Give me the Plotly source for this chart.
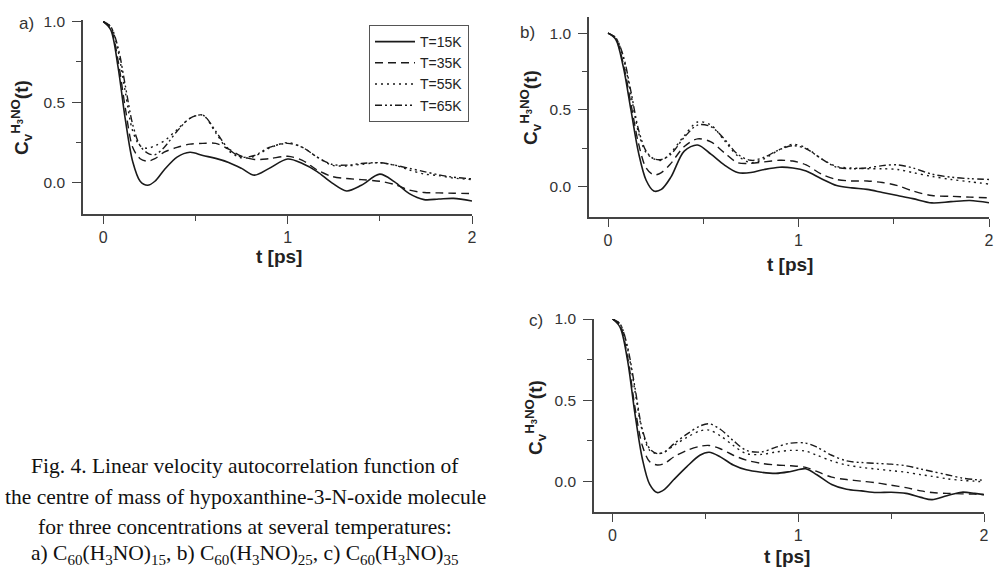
import plotly.graph_objects as go

# ---------------- data ----------------
temps = ["T=15K", "T=35K", "T=55K", "T=65K"]

t_a = [0, 0.04, 0.08, 0.12, 0.16, 0.20, 0.24, 0.28, 0.33, 0.40, 0.47, 0.54, 0.61, 0.68, 0.75,
       0.82, 0.90, 1.00, 1.08, 1.16, 1.24, 1.32, 1.40, 1.50, 1.58, 1.66, 1.74, 1.82, 1.90, 2.00]
a_15 = [1.0, 0.95, 0.72, 0.39, 0.13, 0.01, -0.015, 0.01, 0.08, 0.16, 0.19, 0.17, 0.152, 0.127, 0.09,
        0.048, 0.09, 0.148, 0.12, 0.07, 0.0, -0.05, -0.015, 0.054, 0.006, -0.067, -0.104, -0.10, -0.096, -0.112]
a_35 = [1.0, 0.96, 0.76, 0.46, 0.22, 0.15, 0.135, 0.15, 0.19, 0.22, 0.24, 0.245, 0.245, 0.21, 0.165,
        0.145, 0.15, 0.165, 0.14, 0.08, 0.04, 0.027, 0.02, 0.01, -0.01, -0.045, -0.06, -0.062, -0.064, -0.066]
a_55 = [1.0, 0.97, 0.82, 0.56, 0.32, 0.23, 0.215, 0.23, 0.26, 0.33, 0.40, 0.42, 0.31, 0.20, 0.155,
        0.165, 0.215, 0.25, 0.22, 0.16, 0.11, 0.105, 0.115, 0.125, 0.11, 0.08, 0.055, 0.045, 0.03, 0.02]
a_65 = [1.0, 0.97, 0.84, 0.60, 0.36, 0.23, 0.185, 0.175, 0.22, 0.32, 0.40, 0.42, 0.32, 0.21, 0.16,
        0.17, 0.22, 0.245, 0.22, 0.16, 0.115, 0.11, 0.12, 0.125, 0.11, 0.09, 0.07, 0.05, 0.035, 0.025]

t_b = [0, 0.04, 0.08, 0.12, 0.16, 0.20, 0.24, 0.28, 0.33, 0.40, 0.47, 0.54, 0.61, 0.68, 0.75,
       0.82, 0.90, 0.97, 1.04, 1.12, 1.20, 1.28, 1.36, 1.44, 1.52, 1.60, 1.70, 1.80, 1.90, 2.00]
b_15 = [1.0, 0.96, 0.78, 0.50, 0.22, 0.04, -0.03, -0.02, 0.06, 0.23, 0.27, 0.21, 0.14, 0.09, 0.09,
        0.11, 0.125, 0.12, 0.10, 0.05, 0.005, -0.01, -0.02, -0.04, -0.06, -0.08, -0.108, -0.10, -0.092, -0.107]
b_35 = [1.0, 0.965, 0.80, 0.54, 0.28, 0.12, 0.075, 0.09, 0.15, 0.26, 0.31, 0.29, 0.22, 0.155, 0.15,
        0.16, 0.17, 0.165, 0.14, 0.08, 0.045, 0.035, 0.035, 0.025, 0.005, -0.03, -0.06, -0.065, -0.07, -0.075]
b_55 = [1.0, 0.97, 0.84, 0.60, 0.35, 0.22, 0.18, 0.17, 0.22, 0.33, 0.42, 0.40, 0.30, 0.20, 0.155,
        0.18, 0.24, 0.275, 0.25, 0.18, 0.13, 0.12, 0.115, 0.115, 0.11, 0.09, 0.065, 0.045, 0.03, 0.015]
b_65 = [1.0, 0.97, 0.85, 0.62, 0.37, 0.23, 0.18, 0.175, 0.21, 0.32, 0.40, 0.39, 0.31, 0.21, 0.17,
        0.19, 0.24, 0.265, 0.245, 0.18, 0.125, 0.115, 0.12, 0.135, 0.14, 0.12, 0.08, 0.06, 0.05, 0.045]

t_c = [0, 0.04, 0.08, 0.12, 0.16, 0.20, 0.24, 0.28, 0.33, 0.40, 0.47, 0.52, 0.58, 0.65, 0.72, 0.80,
       0.88, 0.96, 1.04, 1.10, 1.18, 1.26, 1.34, 1.42, 1.50, 1.58, 1.66, 1.72, 1.80, 1.88, 1.95, 2.00]
c_15 = [1.0, 0.95, 0.75, 0.42, 0.14, -0.02, -0.07, -0.05, 0.01, 0.09, 0.16, 0.178, 0.15, 0.10, 0.07, 0.055,
        0.048, 0.06, 0.077, 0.04, -0.02, -0.05, -0.06, -0.07, -0.068, -0.075, -0.10, -0.114, -0.09, -0.068, -0.075, -0.083]
c_35 = [1.0, 0.96, 0.77, 0.46, 0.22, 0.12, 0.10, 0.11, 0.15, 0.19, 0.215, 0.22, 0.20, 0.16, 0.13, 0.11,
        0.10, 0.095, 0.085, 0.06, 0.025, 0.01, 0.0, -0.01, -0.025, -0.04, -0.06, -0.07, -0.075, -0.078, -0.08, -0.083]
c_55 = [1.0, 0.97, 0.82, 0.56, 0.31, 0.19, 0.17, 0.18, 0.22, 0.27, 0.31, 0.315, 0.28, 0.22, 0.17, 0.165,
        0.18, 0.19, 0.185, 0.16, 0.125, 0.10, 0.085, 0.075, 0.065, 0.055, 0.04, 0.03, 0.015, 0.005, 0.0, -0.005]
c_65 = [1.0, 0.97, 0.83, 0.58, 0.32, 0.20, 0.17, 0.18, 0.23, 0.29, 0.34, 0.354, 0.32, 0.25, 0.19, 0.18,
        0.21, 0.235, 0.235, 0.21, 0.16, 0.125, 0.115, 0.11, 0.105, 0.095, 0.075, 0.06, 0.04, 0.02, 0.01, 0.006]

panel_labels = ["a)", "b)", "c)"]
caption_lines = [
    "Fig. 4. Linear velocity autocorrelation function of",
    "the centre of mass of hypoxanthine-3-N-oxide molecule",
    "for three concentrations at several temperatures:",
    "a) C<sub>60</sub>(H<sub>3</sub>NO)<sub>15</sub>, b) C<sub>60</sub>(H<sub>3</sub>NO)<sub>25</sub>, c) C<sub>60</sub>(H<sub>3</sub>NO)<sub>35</sub>",
]

# ---------------- figure ----------------
W, H = 995, 567
INK = "#1a1a1a"
AX = "#444444"
SANS = "Liberation Sans, Arial, sans-serif"
dashes = ["solid", "8px,5px", "2px,4px", "7px,3px,2px,3px,2px,3px"]
widths = [1.6, 1.4, 1.4, 1.4]

panels = [
    (t_a, [a_15, a_35, a_55, a_65], "x", "y"),
    (t_b, [b_15, b_35, b_55, b_65], "x2", "y2"),
    (t_c, [c_15, c_35, c_55, c_65], "x3", "y3"),
]

fig = go.Figure()
for pi, (tt, series, xa, ya) in enumerate(panels):
    for si, vals in enumerate(series):
        fig.add_trace(go.Scatter(
            x=tt, y=vals, mode="lines", name=temps[si],
            line=dict(color=INK, width=widths[si], dash=dashes[si], shape="spline", smoothing=0.9),
            xaxis=xa, yaxis=ya, showlegend=(pi == 0), hoverinfo="skip",
        ))

def px_x(p):
    return p / W

def px_y(p):
    return 1 - p / H

# pixel boxes: (left, right, bottom, top), x range, y range
boxes = [
    ((83, 472, 214, 20), [-0.11, 2.0], [-0.193, 1.01]),
    ((589, 989, 217, 17), [-0.1, 2.0], [-0.2, 1.105]),
    ((594, 984, 512, 319), [-0.1, 2.0], [-0.19, 1.0]),
]

layout = dict(
    width=W, height=H,
    autosize=False,
    margin=dict(l=0, r=0, t=0, b=0, pad=0),
    paper_bgcolor="white", plot_bgcolor="white",
    showlegend=True,
    legend=dict(
        x=px_x(369), y=px_y(25), xanchor="left", yanchor="top",
        bgcolor="white", bordercolor="#555555", borderwidth=1,
        font=dict(family=SANS, size=14, color="#222222"),
        itemwidth=40, tracegroupgap=0,
    ),
)
for i, ((l, r, b, t), xr, yr) in enumerate(boxes):
    sfx = "" if i == 0 else str(i + 1)
    layout["xaxis" + sfx] = dict(
        domain=[px_x(l), px_x(r)], range=xr, anchor="y" + sfx,
        showline=True, linecolor=AX, linewidth=1.5, showgrid=False, zeroline=False,
        ticks="outside", ticklen=8, tickwidth=1.3, tickcolor=AX,
        tickvals=[0, 1, 2], ticktext=["0", "1", "2"],
        minor=dict(tickvals=[0.5, 1.5], ticks="outside", ticklen=5, tickwidth=1.2, tickcolor=AX, showgrid=False),
        tickfont=dict(family=SANS, size=16, color="#333333"), ticklabelstandoff=0, automargin=False,
    )
    layout["yaxis" + sfx] = dict(
        domain=[px_y(b), px_y(t)], range=yr, anchor="x" + sfx,
        showline=True, linecolor=AX, linewidth=1.5, showgrid=False, zeroline=False,
        ticks="outside", ticklen=9, tickwidth=1.3, tickcolor=AX,
        tickvals=[0, 0.5, 1.0], ticktext=["0.0", "0.5", "1.0"],
        minor=dict(tickvals=[0.25, 0.75], ticks="outside", ticklen=5, tickwidth=1.2, tickcolor=AX, showgrid=False),
        tickfont=dict(family=SANS, size=15.5, color="#333333"), ticklabelstandoff=4, automargin=False,
    )
fig.update_layout(**layout)

ann = []
# panel labels
for (lab, x, y) in zip(panel_labels, [26, 527, 536], [23, 33, 320]):
    ann.append(dict(text=lab, x=px_x(x), y=px_y(y), xref="paper", yref="paper",
                    showarrow=False, xanchor="center", yanchor="middle",
                    font=dict(family=SANS, size=17, color="#333333")))
# x titles
for (x, y) in [(279, 257), (790, 264), (787, 556)]:
    ann.append(dict(text="<b>t [ps]</b>", x=px_x(x), y=px_y(y), xref="paper", yref="paper",
                    showarrow=False, xanchor="center", yanchor="middle",
                    font=dict(family=SANS, size=19, color="#222222")))
# y titles
for (x, y) in [(21, 118), (530, 108), (535, 418)]:
    ann.append(dict(text="<b>C<sub>v</sub><sup>H<sub>3</sub>NO</sup>(t)</b>", x=px_x(x), y=px_y(y),
                    xref="paper", yref="paper", textangle=-90,
                    showarrow=False, xanchor="center", yanchor="middle",
                    font=dict(family=SANS, size=19, color="#222222")))
# caption
for line, y in zip(caption_lines, [466, 497, 527, 554]):
    ann.append(dict(text=line, x=px_x(245), y=px_y(y), xref="paper", yref="paper",
                    showarrow=False, xanchor="center", yanchor="middle",
                    font=dict(family="Liberation Serif, Times New Roman, serif", size=21.5, color="#111111")))
fig.update_layout(annotations=ann)

fig.write_html(
    "out.html",
    config={"displayModeBar": False},
    post_script="document.body.style.margin='0';document.body.style.padding='0';document.body.style.overflow='hidden';",
)
